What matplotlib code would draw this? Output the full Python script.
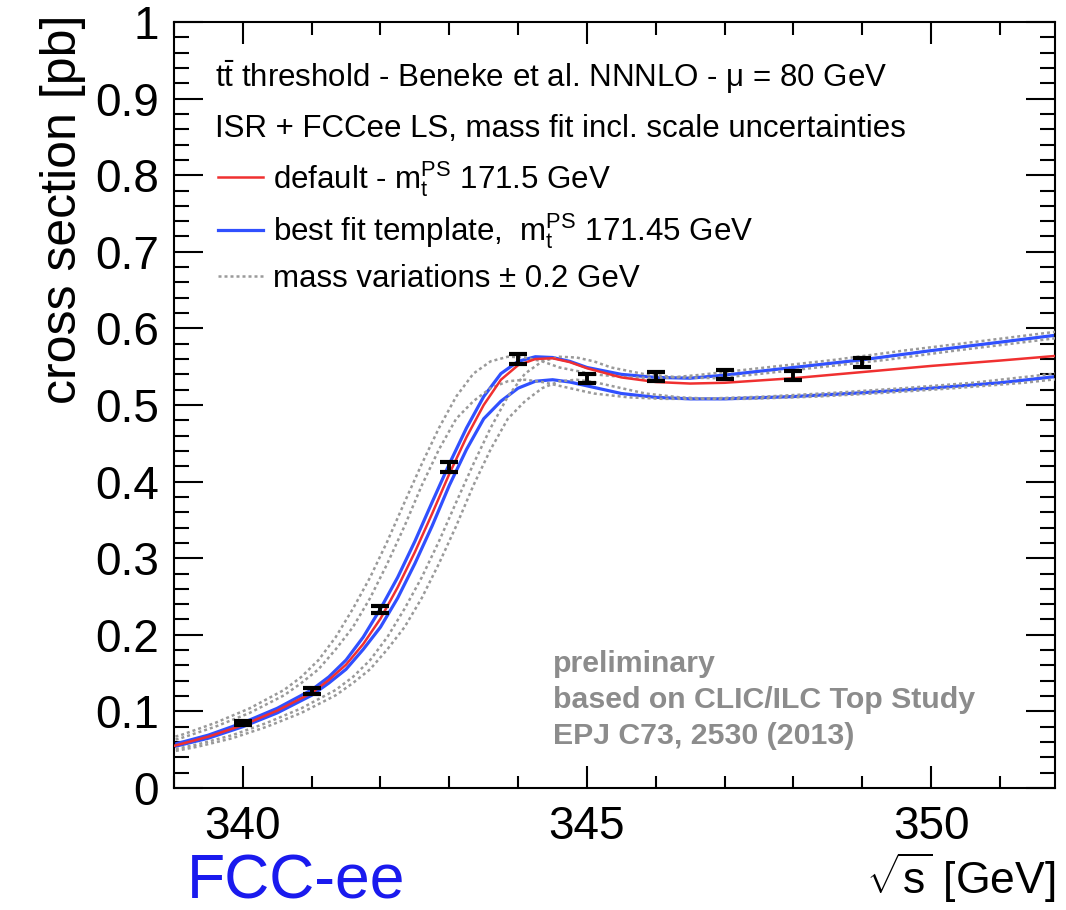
import matplotlib
matplotlib.use('Agg')
import matplotlib.pyplot as plt
from matplotlib.ticker import MultipleLocator, FuncFormatter

plt.rcParams['font.family'] = ['Liberation Sans', 'DejaVu Sans']
plt.rcParams['mathtext.fontset'] = 'custom'
plt.rcParams['mathtext.rm'] = 'Liberation Sans'
plt.rcParams['mathtext.it'] = 'Liberation Sans:italic'
plt.rcParams['mathtext.bf'] = 'Liberation Sans:bold'

# threshold scan pseudo-data, 1 GeV steps
scan_energy = [340, 341, 342, 343, 344, 345, 346, 347, 348, 349]
scan_xsec = [0.085, 0.127, 0.233, 0.419, 0.560, 0.535, 0.537, 0.540, 0.538, 0.556]
scan_err = [0.003, 0.004, 0.005, 0.006, 0.006, 0.006, 0.006, 0.006, 0.006, 0.006]

# curves
energy = [339.0, 339.5, 340.0, 340.5, 341.0, 341.25, 341.5, 341.75, 342.0, 342.25, 342.5,
          342.75, 343.0, 343.25, 343.5, 343.75, 344.0, 344.25, 344.5, 344.75, 345.0,
          345.5, 346.0, 346.5, 347.0, 348.0, 349.0, 350.0, 351.0, 351.8]
xsec_default = [0.055, 0.067, 0.082, 0.101, 0.124, 0.141, 0.161, 0.188, 0.221, 0.262, 0.308,
                0.358, 0.410, 0.458, 0.500, 0.533, 0.552, 0.560, 0.561, 0.556, 0.548,
                0.536, 0.530, 0.528, 0.529, 0.535, 0.543, 0.551, 0.558, 0.564]
xsec_fit_up = [0.057, 0.069, 0.085, 0.104, 0.128, 0.145, 0.167, 0.197, 0.234, 0.275, 0.322,
               0.373, 0.423, 0.470, 0.511, 0.541, 0.557, 0.563, 0.562, 0.557, 0.549,
               0.540, 0.536, 0.535, 0.539, 0.549, 0.559, 0.571, 0.582, 0.591]
xsec_fit_down = [0.054, 0.065, 0.080, 0.098, 0.121, 0.137, 0.155, 0.181, 0.210, 0.248, 0.293,
                 0.342, 0.395, 0.442, 0.482, 0.505, 0.522, 0.531, 0.533, 0.530, 0.525,
                 0.515, 0.510, 0.508, 0.508, 0.511, 0.516, 0.522, 0.529, 0.537]

# mass variations (+-0.2 GeV) of the two fit curves
mvar_low_energy = [338.6, 339.1, 339.6, 340.1, 340.6, 340.85, 341.1, 341.35, 341.6, 341.85, 342.1,
                   342.35, 342.6, 342.85, 343.1, 343.35, 343.6, 343.85, 344.1, 344.35, 344.6,
                   345.1, 345.6, 346.1, 346.6, 347.6, 348.6, 349.6, 350.6, 351.4, 352.2]
mvar_low_up = [0.057, 0.069, 0.085, 0.104, 0.128, 0.145, 0.167, 0.197, 0.234, 0.275, 0.322,
               0.373, 0.423, 0.470, 0.511, 0.541, 0.557, 0.563, 0.562, 0.557, 0.549,
               0.540, 0.536, 0.535, 0.539, 0.549, 0.559, 0.571, 0.582, 0.591, 0.600]
mvar_low_down = [0.054, 0.065, 0.080, 0.098, 0.121, 0.137, 0.155, 0.181, 0.210, 0.248, 0.293,
                 0.342, 0.395, 0.442, 0.482, 0.505, 0.522, 0.531, 0.533, 0.530, 0.525,
                 0.515, 0.510, 0.508, 0.508, 0.511, 0.516, 0.522, 0.529, 0.537, 0.545]
mvar_high_energy = [338.6, 339.35, 339.85, 340.35, 340.85, 341.35, 341.6, 341.85, 342.1, 342.35, 342.6,
                    342.85, 343.1, 343.35, 343.6, 343.85, 344.1, 344.35, 344.6, 344.85, 345.1,
                    345.35, 345.85, 346.35, 346.85, 347.35, 348.35, 349.35, 350.35, 351.35, 352.15]
mvar_high_up = [0.043, 0.057, 0.069, 0.085, 0.104, 0.128, 0.145, 0.167, 0.197, 0.234, 0.275,
                0.322, 0.373, 0.423, 0.470, 0.511, 0.541, 0.557, 0.563, 0.562, 0.557,
                0.549, 0.540, 0.536, 0.535, 0.539, 0.549, 0.559, 0.571, 0.582, 0.591]
mvar_high_down = [0.041, 0.054, 0.065, 0.080, 0.098, 0.121, 0.137, 0.155, 0.181, 0.210, 0.248,
                  0.293, 0.342, 0.395, 0.442, 0.482, 0.505, 0.522, 0.531, 0.533, 0.530,
                  0.525, 0.515, 0.510, 0.508, 0.508, 0.511, 0.516, 0.522, 0.529, 0.537]

red = '#f03030'
blue = '#3050ff'
grey = '#9a9a9a'

fig = plt.figure(figsize=(10.66, 9.10), dpi=100)
ax = fig.add_axes([0.1632, 0.1341, 0.8265, 0.8417])

# fit curves
ax.plot(energy, xsec_fit_up, color=blue, lw=2.3, zorder=2)
ax.plot(energy, xsec_fit_down, color=blue, lw=2.3, zorder=2)

# mass variations, dotted
dot_style = dict(color=grey, lw=1.8, ls=(0, (1.2, 1.2)), zorder=3)
ax.plot(mvar_low_energy, mvar_low_up, **dot_style)
ax.plot(mvar_low_energy, mvar_low_down, **dot_style)
ax.plot(mvar_high_energy, mvar_high_up, **dot_style)
ax.plot(mvar_high_energy, mvar_high_down, **dot_style)

ax.plot(energy, xsec_default, color=red, lw=1.8, zorder=4)

ax.errorbar(scan_energy, scan_xsec, yerr=scan_err, fmt='none', ecolor='black',
            elinewidth=2.8, capsize=6.5, capthick=3.0, zorder=6)

ax.set_xlim(339, 351.8)
ax.set_ylim(0, 1)

ax.xaxis.set_major_locator(MultipleLocator(5))
ax.xaxis.set_minor_locator(MultipleLocator(1))
ax.yaxis.set_major_locator(MultipleLocator(0.1))
ax.yaxis.set_minor_locator(MultipleLocator(0.02))
ax.yaxis.set_major_formatter(FuncFormatter(lambda v, p: f"{v:g}"))

ax.tick_params(which='both', direction='in', top=True, right=True, width=1.5,
               labelsize=33)
ax.tick_params(axis='y', which='major', length=21, pad=11)
ax.tick_params(axis='y', which='minor', length=11)
ax.tick_params(axis='x', which='major', length=16, pad=12)
ax.tick_params(axis='x', which='minor', length=9)
for sp in ax.spines.values():
    sp.set_linewidth(1.5)

ax.set_ylabel('cross section [pb]', fontsize=36, loc='top')
ax.yaxis.set_label_coords(-0.10, 1.01)
ax.set_xlabel(r'$\mathregular{\sqrt{s}}$ [GeV]', fontsize=32, loc='right')
ax.xaxis.set_label_coords(1.0, -0.082)

# header lines and legend
ax.text(0.047, 0.928, r'$\mathregular{t\bar{t}}$ threshold - Beneke et al. NNNLO - μ = 80 GeV',
        transform=ax.transAxes, fontsize=22.5, va='center', ha='left')
ax.text(0.047, 0.860, 'ISR + FCCee LS, mass fit incl. scale uncertainties',
        transform=ax.transAxes, fontsize=22.5, va='center', ha='left')

h_red = plt.Line2D([], [], color=red, lw=1.8)
h_blue = plt.Line2D([], [], color=blue, lw=2.3)
h_dot = plt.Line2D([], [], **dot_style)
ax.legend([h_red, h_blue, h_dot],
          [r'default - $\mathregular{m_t^{PS}}$ 171.5 GeV',
           r'best fit template,  $\mathregular{m_t^{PS}}$ 171.45 GeV',
           'mass variations ± 0.2 GeV'],
          loc='upper left', bbox_to_anchor=(0.05, 0.821), frameon=False,
          fontsize=22.5, handlelength=1.45, handletextpad=0.3,
          labelspacing=0.4, borderpad=0, borderaxespad=0)

ax.text(0.43, 0.115, 'preliminary\nbased on CLIC/ILC Top Study\nEPJ C73, 2530 (2013)',
        transform=ax.transAxes, fontsize=21.8, fontweight='bold', color='#8c8c8c',
        va='center', ha='left', linespacing=1.38)

fig.text(0.175, 0.031, 'FCC-ee', fontsize=45, color='#1a1aee', va='center', ha='left')

fig.savefig('out.png', dpi=100)
